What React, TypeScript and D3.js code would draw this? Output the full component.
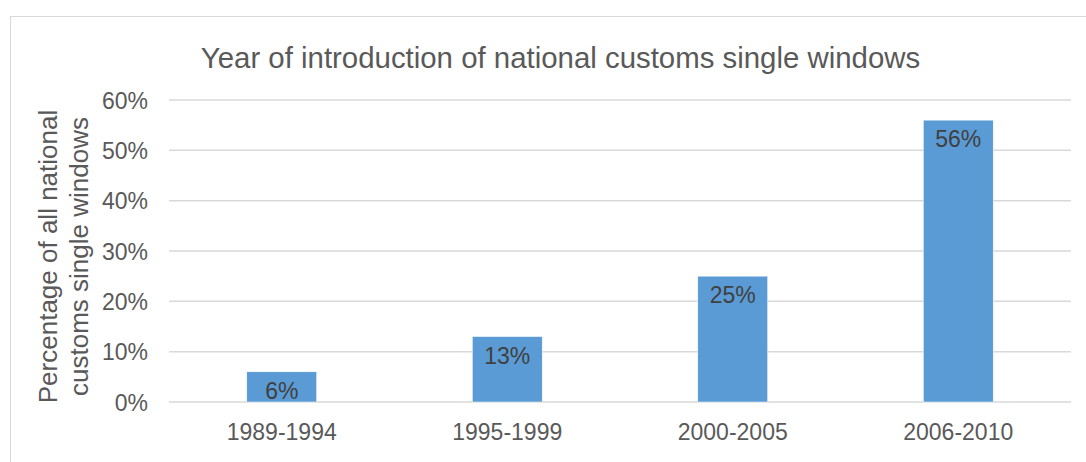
import React from "react";
import * as d3 from "d3";

const categories = ["1989-1994", "1995-1999", "2000-2005", "2006-2010"];
const values = [6, 13, 25, 56];
const yTicks = [0, 10, 20, 30, 40, 50, 60];
const title = "Year of introduction of national customs single windows";
const yTitle = ["Percentage of all national", "customs single windows"];

export default function App() {
  const W = 1086, H = 462;
  const left = 169, right = 1071, top = 100, bottom = 402;
  const x = d3.scaleBand<string>().domain(categories).range([left, right]).paddingInner(0.69).paddingOuter(0.345);
  const y = d3.scaleLinear().domain([0, 60]).range([bottom, top]);
  const font = "'Liberation Sans', Arial, sans-serif";
  const txt = "#595959";
  return (
    <svg width={W} height={H} style={{ position: "absolute", left: 0, top: 0, display: "block" }} fontFamily={font}>
      <rect x={0} y={0} width={W} height={H} fill="#fff" />
      <rect x={10.5} y={16.5} width={W} height={H} fill="#fff" stroke="#D9D9D9" strokeWidth={1} />
      <text x={560.5} y={68} textAnchor="middle" fontSize={29.4} fill={txt}>{title}</text>
      {yTicks.map((t) => (
        <g key={t}>
          <line x1={left} x2={right} y1={y(t)} y2={y(t)} stroke="#D9D9D9" strokeWidth={1.5} />
          <text x={148} y={y(t) + 8.5} textAnchor="end" fontSize={23} fill={txt}>{t}%</text>
        </g>
      ))}
      <text transform={`translate(0, 256.5) rotate(-90)`} textAnchor="middle" fontSize={26} fill={txt}>
        <tspan x={0} y={57}>{yTitle[0]}</tspan>
        <tspan x={0} y={88}>{yTitle[1]}</tspan>
      </text>
      {categories.map((c, i) => (
        <g key={c}>
          <rect x={x(c)!} y={y(values[i])} width={x.bandwidth()} height={bottom - y(values[i])} fill="#5B9BD5" stroke="#fff" strokeWidth={0.5} />
          <text x={x(c)! + x.bandwidth() / 2} y={y(values[i]) + 27} textAnchor="middle" fontSize={23} fill="#404040">{values[i]}%</text>
          <text x={x(c)! + x.bandwidth() / 2} y={440} textAnchor="middle" fontSize={23} fill={txt}>{c}</text>
        </g>
      ))}
    </svg>
  );
}
